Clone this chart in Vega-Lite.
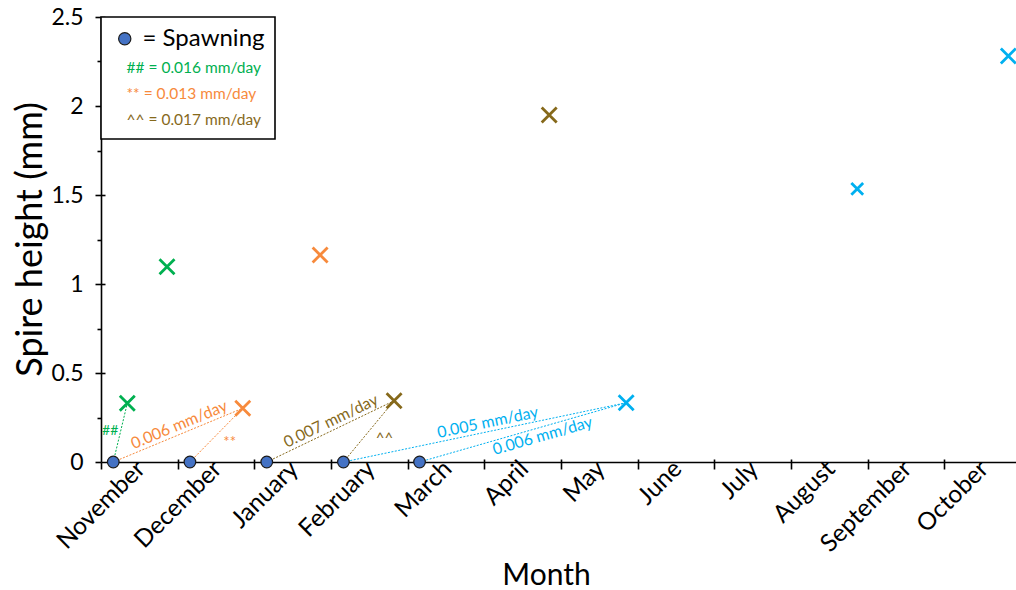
{
  "$schema": "https://vega.github.io/schema/vega-lite/v6.json",
  "width": 920,
  "height": 445,
  "autosize": {"type": "none"},
  "padding": {"left": 101, "top": 17, "right": 0, "bottom": 128},
  "background": "white",
  "config": {
    "font": "Lato",
    "view": {"stroke": null},
    "axis": {
      "grid": false,
      "domainColor": "black",
      "domainWidth": 1.6,
      "tickColor": "black",
      "tickWidth": 1.6,
      "labelColor": "black",
      "labelFont": "Lato",
      "titleColor": "black",
      "titleFont": "Lato",
      "titleFontWeight": "normal"
    },
    "legend": {
      "strokeColor": "black",
      "strokeWidth": 1.6,
      "fillColor": "white",
      "padding": 10,
      "rowPadding": 9,
      "labelFont": "Lato"
    }
  },
  "resolve": {"axis": {"x": "independent", "y": "independent"}},
  "datasets": {
    "points": [
      {"month": 0.160, "height": 0, "series": "Spawning"},
      {"month": 1.160, "height": 0, "series": "Spawning"},
      {"month": 2.162, "height": 0, "series": "Spawning"},
      {"month": 3.162, "height": 0, "series": "Spawning"},
      {"month": 4.155, "height": 0, "series": "Spawning"},
      {"month": 0.343, "height": 0.330, "series": "A"},
      {"month": 0.861, "height": 1.097, "series": "A"},
      {"month": 1.849, "height": 0.302, "series": "B"},
      {"month": 2.858, "height": 1.163, "series": "B"},
      {"month": 3.823, "height": 0.344, "series": "C"},
      {"month": 5.846, "height": 1.949, "series": "C"},
      {"month": 6.850, "height": 0.333, "series": "D"},
      {"month": 9.864, "height": 1.534, "series": "D"},
      {"month": 11.835, "height": 2.281, "series": "D"}
    ],
    "segments": [
      {"series": "A", "month": 0.160, "height": 0, "month_end": 0.343, "height_end": 0.330, "note": "##"},
      {"series": "B", "month": 0.160, "height": 0, "month_end": 1.849, "height_end": 0.302, "note": "0.006 mm/day"},
      {"series": "B", "month": 1.160, "height": 0, "month_end": 1.849, "height_end": 0.302, "note": "**"},
      {"series": "C", "month": 2.162, "height": 0, "month_end": 3.823, "height_end": 0.344, "note": "0.007 mm/day"},
      {"series": "C", "month": 3.162, "height": 0, "month_end": 3.823, "height_end": 0.344, "note": "^^"},
      {"series": "D", "month": 3.162, "height": 0, "month_end": 6.850, "height_end": 0.333, "note": "0.005 mm/day"},
      {"series": "D", "month": 4.155, "height": 0, "month_end": 6.850, "height_end": 0.333, "note": "0.006 mm/day"}
    ]
  },
  "layer": [
    {
      "data": {"name": "segments"},
      "mark": {"type": "rule", "strokeDash": [2, 1.5], "strokeWidth": 1},
      "encoding": {
        "x": {
          "field": "month",
          "type": "quantitative",
          "scale": {"domain": [0, 12], "nice": false, "zero": false},
          "axis": {
            "orient": "bottom",
            "title": "Month",
            "titleFontSize": 30,
            "titleX": 445,
            "titleY": 122,
            "titleBaseline": "alphabetic",
            "titleAlign": "center",
            "values": [0, 1, 2, 3, 4, 5, 6, 7, 8, 9, 10, 11],
            "labelExpr": "['November','December','January','February','March','April','May','June','July','August','September','October'][datum.value]",
            "labelAngle": -45,
            "labelAlign": "right",
            "labelBaseline": "middle",
            "labelOffset": 40,
            "labelPadding": -4,
            "labelFontSize": 24.5,
            "labelFlush": false,
            "labelOverlap": false,
            "labelBound": false,
            "tickSize": 7
          }
        },
        "y": {
          "field": "height",
          "type": "quantitative",
          "scale": {"domain": [0, 2.5], "nice": false},
          "axis": {
            "orient": "left",
            "title": "Spire height (mm)",
            "titleFontSize": 36,
            "titleX": -71,
            "titleY": 222,
            "titleBaseline": "middle",
            "titleAlign": "center",
            "values": [0, 0.25, 0.5, 0.75, 1, 1.25, 1.5, 1.75, 2, 2.25, 2.5],
            "format": "~g",
            "labelExpr": "datum.value % 0.5 === 0 ? datum.label : ''",
            "labelFontSize": 23,
            "labelPadding": 12,
            "labelOverlap": false,
            "tickSize": {"condition": {"test": "datum.value % 0.5 === 0", "value": 6}, "value": 4}
          }
        },
        "x2": {"field": "month_end"},
        "y2": {"field": "height_end"},
        "stroke": {
          "field": "series",
          "type": "nominal",
          "scale": {"domain": ["A", "B", "C", "D"], "range": ["#00B050", "#F78A3C", "#86691B", "#00B0F0"]},
          "legend": null
        }
      }
    },
    {
      "data": {"name": "points"},
      "transform": [{"filter": "datum.series !== 'Spawning'"}],
      "mark": {"type": "point", "shape": "M-1,-1L1,1M1,-1L-1,1", "filled": false, "strokeWidth": 2.8, "opacity": 1},
      "encoding": {
        "x": {
          "field": "month",
          "type": "quantitative",
          "axis": {"orient": "bottom", "title": null, "labels": false, "domain": false, "values": [1, 2, 3, 4, 5, 6, 7, 8, 9, 10, 11], "tickSize": -3}
        },
        "y": {
          "field": "height",
          "type": "quantitative",
          "axis": {"orient": "left", "title": null, "labels": false, "domain": false, "values": [0.5, 1, 1.5, 2, 2.5], "tickSize": -4}
        },
        "stroke": {"field": "series", "type": "nominal", "legend": null},
        "size": {"condition": {"test": "datum.month > 9.5 && datum.month < 10.5", "value": 140}, "value": 225}
      }
    },
    {
      "data": {"name": "points"},
      "transform": [{"filter": "datum.series === 'Spawning'"}],
      "mark": {"type": "point", "shape": "circle", "filled": true, "stroke": "#1a1a1a", "strokeWidth": 1.2, "size": 135, "opacity": 1},
      "encoding": {
        "x": {"field": "month", "type": "quantitative", "axis": null},
        "y": {"field": "height", "type": "quantitative", "axis": null},
        "fill": {
          "field": "series",
          "type": "nominal",
          "scale": {"domain": ["Spawning", "A", "B", "C"], "range": ["#4472C4", "#00B050", "#F78A3C", "#86691B"]},
          "legend": {
            "orient": "top-left",
            "offset": 0,
            "title": " ",
            "titleFontSize": 1,
            "titlePadding": 3,
            "symbolType": "circle",
            "symbolSize": 150,
            "symbolStrokeColor": "#1a1a1a",
            "symbolStrokeWidth": 1.2,
            "symbolOffset": 6,
            "labelExpr": "datum.value === 'Spawning' ? '= Spawning' : datum.value === 'A' ? '## = 0.016 mm/day' : datum.value === 'B' ? '** = 0.013 mm/day' : '^^ = 0.017 mm/day'",
            "labelFontSize": {"expr": "datum.value === 'Spawning' ? 24 : 15.5"},
            "labelColor": {"expr": "datum.value === 'A' ? '#00B050' : datum.value === 'B' ? '#F78A3C' : datum.value === 'C' ? '#86691B' : 'black'"},
            "symbolOpacity": {"expr": "datum.value === 'Spawning' ? 1 : 0"},
            "labelOffset": {"expr": "datum.value === 'Spawning' ? 10 : -6"}
          }
        }
      }
    },
    {
      "data": {"name": "segments"},
      "transform": [
        {"filter": "length(datum.note) > 2 && !(datum.series === 'D' && datum.note === '0.006 mm/day')"},
        {"calculate": "(datum.month + datum.month_end) / 2", "as": "mid_month"},
        {"calculate": "(datum.height + datum.height_end) / 2", "as": "mid_height"}
      ],
      "mark": {
        "type": "text",
        "fontSize": 16,
        "baseline": "bottom",
        "align": "center",
        "dx": 5,
        "dy": -1,
        "angle": {"expr": "atan2(scale('y', datum.height_end) - scale('y', datum.height), scale('x', datum.month_end) - scale('x', datum.month)) * 180 / PI"}
      },
      "encoding": {
        "x": {"field": "mid_month", "type": "quantitative", "axis": null},
        "y": {"field": "mid_height", "type": "quantitative", "axis": null},
        "text": {"field": "note"},
        "color": {"field": "series", "type": "nominal", "scale": {"domain": ["A", "B", "C", "D"], "range": ["#00B050", "#F78A3C", "#86691B", "#00B0F0"]}, "legend": null}
      }
    },
    {
      "data": {"name": "segments"},
      "transform": [
        {"filter": "datum.series === 'D' && datum.note === '0.006 mm/day'"},
        {"calculate": "(datum.month + datum.month_end) / 2", "as": "mid_month"},
        {"calculate": "(datum.height + datum.height_end) / 2", "as": "mid_height"}
      ],
      "mark": {
        "type": "text",
        "fontSize": 16,
        "baseline": "top",
        "align": "center",
        "dx": 18,
        "dy": 1,
        "angle": {"expr": "atan2(scale('y', datum.height_end) - scale('y', datum.height), scale('x', datum.month_end) - scale('x', datum.month)) * 180 / PI"}
      },
      "encoding": {
        "x": {"field": "mid_month", "type": "quantitative", "axis": null},
        "y": {"field": "mid_height", "type": "quantitative", "axis": null},
        "text": {"field": "note"},
        "color": {"field": "series", "type": "nominal", "legend": null}
      }
    },
    {
      "data": {"name": "segments"},
      "transform": [
        {"filter": "datum.note === '##'"},
        {"calculate": "(datum.month + datum.month_end) / 2", "as": "mid_month"},
        {"calculate": "(datum.height + datum.height_end) / 2", "as": "mid_height"}
      ],
      "mark": {"type": "text", "fontSize": 14, "baseline": "middle", "align": "right", "dx": -2, "dy": -2},
      "encoding": {
        "x": {"field": "mid_month", "type": "quantitative", "axis": null},
        "y": {"field": "mid_height", "type": "quantitative", "axis": null},
        "text": {"field": "note"},
        "color": {"field": "series", "type": "nominal", "legend": null}
      }
    },
    {
      "data": {"name": "segments"},
      "transform": [
        {"filter": "datum.note === '**' || datum.note === '^^'"},
        {"calculate": "(datum.month + datum.month_end) / 2", "as": "mid_month"},
        {"calculate": "(datum.height + datum.height_end) / 2", "as": "mid_height"}
      ],
      "mark": {"type": "text", "fontSize": 15, "baseline": "middle", "align": "left", "dx": 7, "dy": 7},
      "encoding": {
        "x": {"field": "mid_month", "type": "quantitative", "axis": null},
        "y": {"field": "mid_height", "type": "quantitative", "axis": null},
        "text": {"field": "note"},
        "color": {"field": "series", "type": "nominal", "legend": null}
      }
    }
  ]
}
